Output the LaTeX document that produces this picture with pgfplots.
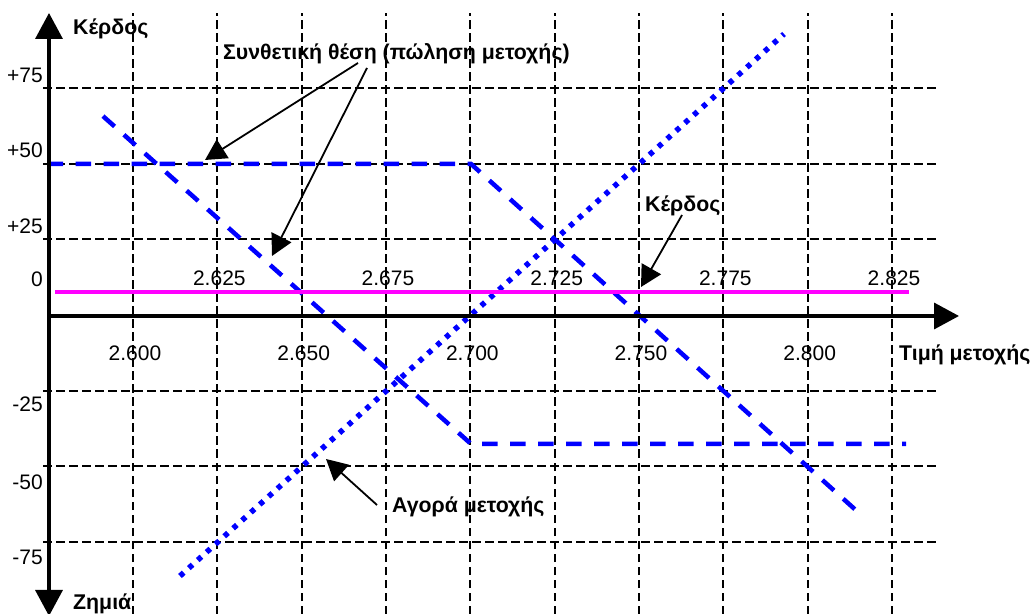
\documentclass[border=0pt]{standalone}
\usepackage{fontspec}
\setmainfont{Liberation Sans}
\usepackage{pgfplots}
\pgfplotsset{compat=1.18}
\usetikzlibrary{arrows.meta}
\definecolor{magline}{RGB}{255,0,255}
\definecolor{blueline}{RGB}{0,0,255}

\begin{document}
\begin{tikzpicture}
\begin{axis}[
  at={(43bp,0bp)}, anchor=south west,
  scale only axis, width=894bp, height=601bp,
  xmin=2.57332, xmax=2.83834, ymin=-98.79, ymax=99.78,
  axis line style={draw=none},
  tick style={draw=none}, major tick length=0pt,
  grid=major,
  major grid style={black, line width=2bp, dash pattern=on 8.5bp off 4.5bp},
  xtick={2.6,2.625,2.65,2.675,2.7,2.725,2.75,2.775,2.8,2.825},
  xticklabels={2.600,\raisebox{75bp}{2.625},2.650,\raisebox{75bp}{2.675},2.700,\raisebox{75bp}{2.725},2.750,\raisebox{75bp}{2.775},2.800,\raisebox{75bp}{2.825}},
  xticklabel style={anchor=base, inner sep=0pt, yshift=253bp, xshift=2bp, font=\fontsize{21bp}{25bp}\selectfont},
  ytick={-75,-50,-25,25,50,75},
  yticklabels={\raisebox{-23bp}{-75},\raisebox{-23bp}{-50},\raisebox{-21bp}{-25},\raisebox{5.5bp}{+25},\raisebox{6bp}{+50},\raisebox{5bp}{+75}},
  extra y ticks={0},
  extra y tick labels={\raisebox{28bp}{0}},
  extra y tick style={grid=none},
  yticklabel style={anchor=base east, inner sep=0pt, font=\fontsize{21bp}{25bp}\selectfont},
  /pgf/number format/assume math mode=true,
  clip=false,
]
% Buy stock (dotted)
\addplot[blueline, line width=5.5bp, dash pattern=on 5bp off 6.9bp] coordinates {(2.61393,-86.23) (2.79299,92.84)};
% Synthetic position legs (dashed)
\addplot[blueline, line width=4.5bp, dash pattern=on 15.5bp off 12.5bp] coordinates {(2.5911,65.7) (2.7002,-42.6) (2.8292,-42.6)};
\addplot[blueline, line width=4.5bp, dash pattern=on 15.5bp off 12.5bp] coordinates {(2.5747,49.9) (2.7002,49.9) (2.8146,-64.8)};
% Profit line (magenta)
\addplot[magline, line width=4.5bp] coordinates {(2.57688,7.6) (2.83004,7.6)};
\end{axis}
\begin{scope}[x=1bp, y=-1bp, yshift=614bp]
  % axes
  \draw[line width=3.5bp, {Triangle[width=27bp,length=26bp]}-{Triangle[width=27bp,length=26bp]}] (49,616) -- (49,13);
  \draw[line width=3.5bp, -{Triangle[width=26bp,length=25bp]}] (49,316) -- (959,316);
  % annotation arrows
  \draw[line width=1.8bp, -{Triangle[width=22bp,length=21bp]}] (358,63) -- (205,160);
  \draw[line width=1.8bp, -{Triangle[width=22bp,length=21bp]}] (367,68) -- (272,256);
  \draw[line width=1.8bp, -{Triangle[width=22bp,length=21bp]}] (682,215) -- (641,287);
  \draw[line width=1.8bp, -{Triangle[width=22bp,length=21bp]}] (377,505) -- (326,459);
  % texts
  \begin{scope}[every node/.style={inner sep=0pt, font=\fontsize{21.3bp}{25bp}\selectfont\bfseries, anchor=base west}]
    \node at (73,35) {Κέρδος};
    \node at (223,60) {Συνθετική θέση (πώληση μετοχής)};
    \node at (645,212) {Κέρδος};
    \node at (392,513) {Αγορά μετοχής};
    \node at (899,361) {Τιμή μετοχής};
    \node at (73,610) {Ζημιά};
  \end{scope}
  \pgfresetboundingbox
  \path (0,0) rectangle (1034,614);
\end{scope}
\end{tikzpicture}
\end{document}
